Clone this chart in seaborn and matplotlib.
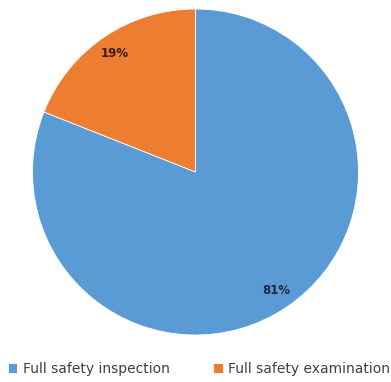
import matplotlib
matplotlib.use("Agg")
import matplotlib.pyplot as plt
import seaborn as sns

categories = ["Full safety inspection", "Full safety examination"]
shares = [81, 19]
colors = ["#5B9BD5", "#ED7D31"]

sns.set_theme(style="white")
plt.rcParams["font.family"] = ["DejaVu Sans"]

W, H = 391, 382
fig = plt.figure(figsize=(W / 100, H / 100), dpi=100)
cx, cy, r = 195.5, 172, 163
ax = fig.add_axes([(cx - r) / W, (H - cy - r) / H, 2 * r / W, 2 * r / H])

wedges, texts, autotexts = ax.pie(
    shares,
    colors=sns.color_palette(colors),
    startangle=90,
    counterclock=False,
    autopct="%d%%",
    pctdistance=0.88,
    wedgeprops=dict(linewidth=0.6, edgecolor="white"),
    textprops=dict(fontsize=8.5, fontweight="bold", color="#3a1f10"),
)
autotexts[0].set_color("#1f2a40")
ax.set_xlim(-1, 1)
ax.set_ylim(-1, 1)
ax.set_aspect("equal")
ax.axis("off")

fig.legend(
    wedges, categories,
    loc="center", bbox_to_anchor=(0.509, (H - 369) / H),
    ncol=2, frameon=False, fontsize=10,
    handlelength=0.7, handleheight=0.7, handletextpad=0.4,
    columnspacing=3.1, labelcolor="#404040",
)

fig.savefig("out.png", dpi=100, facecolor="white")
